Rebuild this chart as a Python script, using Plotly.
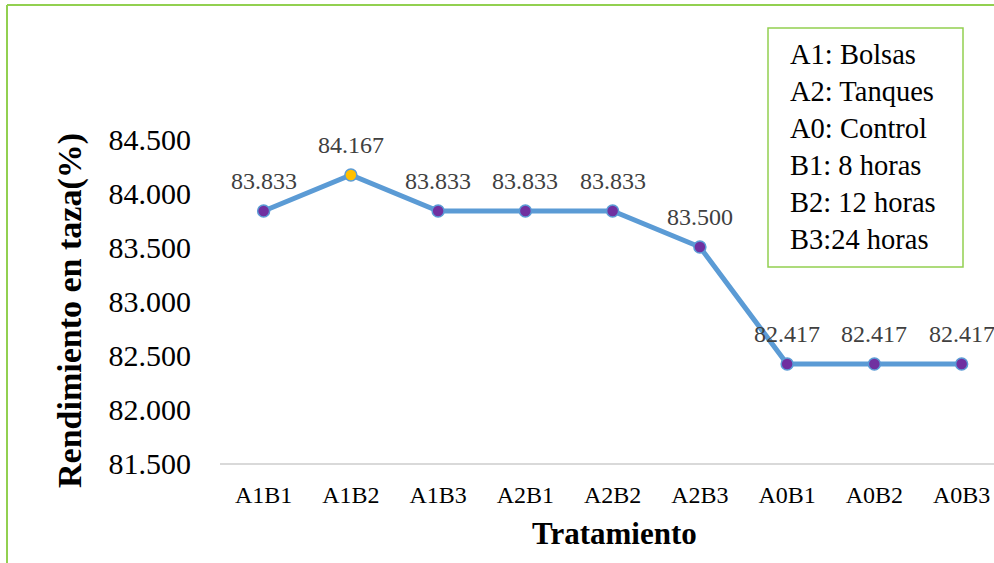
import plotly.graph_objects as go

categories = ["A1B1", "A1B2", "A1B3", "A2B1", "A2B2", "A2B3", "A0B1", "A0B2", "A0B3"]
values = [83.833, 84.167, 83.833, 83.833, 83.833, 83.500, 82.417, 82.417, 82.417]
labels = ["83.833", "84.167", "83.833", "83.833", "83.833", "83.500", "82.417", "82.417", "82.417"]
marker_colors = ["#7030A0", "#FFC000", "#7030A0", "#7030A0", "#7030A0", "#7030A0", "#7030A0", "#7030A0", "#7030A0"]
y_ticks = [81.5, 82.0, 82.5, 83.0, 83.5, 84.0, 84.5]
y_ticktext = ["81.500", "82.000", "82.500", "83.000", "83.500", "84.000", "84.500"]
legend_lines = ["A1: Bolsas", "A2: Tanques", "A0: Control", "B1: 8 horas", "B2: 12 horas", "B3:24 horas"]

SERIF = "Liberation Serif"
W, H = 994, 563
L, R, T, B = 220, 0, 139, 100
pw, ph = W - L - R, H - T - B

def px(x):
    return (x - L) / pw

def py(y):
    return (H - B - y) / ph

fig = go.Figure()
fig.add_trace(go.Scatter(
    x=categories, y=values, mode="lines+markers",
    line=dict(color="#5B9BD5", width=5),
    marker=dict(size=12, color=marker_colors, line=dict(color="#5B9BD5", width=1.5)),
    cliponaxis=False, showlegend=False,
))

green = "#92D050"
shapes = [
    dict(type="line", xref="paper", yref="paper", x0=px(7), x1=px(W), y0=py(5), y1=py(5),
         line=dict(color=green, width=2)),
    dict(type="line", xref="paper", yref="paper", x0=px(7), x1=px(7), y0=py(5), y1=py(H),
         line=dict(color=green, width=2)),
    dict(type="rect", xref="paper", yref="paper", x0=px(768), x1=px(963), y0=py(28), y1=py(267),
         line=dict(color=green, width=1.5), fillcolor="white"),
]

annotations = [
    dict(xref="paper", yref="paper", x=px(788), y=py(147), xanchor="left", yanchor="middle",
         align="left", showarrow=False, text="<br>".join(legend_lines),
         font=dict(family=SERIF, size=28.5, color="black")),
    dict(xref="paper", yref="paper", x=px(614), y=py(533), xanchor="center", yanchor="middle",
         showarrow=False, text="<b>Tratamiento</b>",
         font=dict(family=SERIF, size=31, color="black")),
    dict(xref="paper", yref="paper", x=px(70), y=py(311), xanchor="center", yanchor="middle",
         showarrow=False, text="<b>Rendimiento en taza(%)</b>", textangle=-90,
         font=dict(family=SERIF, size=34, color="black")),
]
for c, v, t in zip(categories, values, labels):
    annotations.append(dict(x=c, y=v, xref="x", yref="y", text=t, showarrow=False,
                            yshift=30, xanchor="center", yanchor="middle",
                            font=dict(family=SERIF, size=24, color="#404040")))

fig.update_layout(
    width=W, height=H,
    margin=dict(l=L, r=R, t=T, b=B, pad=0),
    paper_bgcolor="white", plot_bgcolor="white",
    shapes=shapes, annotations=annotations,
    xaxis=dict(type="category", range=[-0.5, -0.5 + pw / 87.25], showgrid=False,
               showline=True, linecolor="#D9D9D9", linewidth=1.5,
               ticks="outside", ticklen=9, tickcolor="rgba(0,0,0,0)",
               tickfont=dict(family=SERIF, size=24, color="black"), zeroline=False),
    yaxis=dict(range=[81.5, 84.5], tickvals=y_ticks, ticktext=y_ticktext, showgrid=False,
               showline=False, zeroline=False,
               ticks="outside", ticklen=22, tickcolor="rgba(0,0,0,0)",
               tickfont=dict(family=SERIF, size=30, color="black")),
)

fig.write_html("out.html")
